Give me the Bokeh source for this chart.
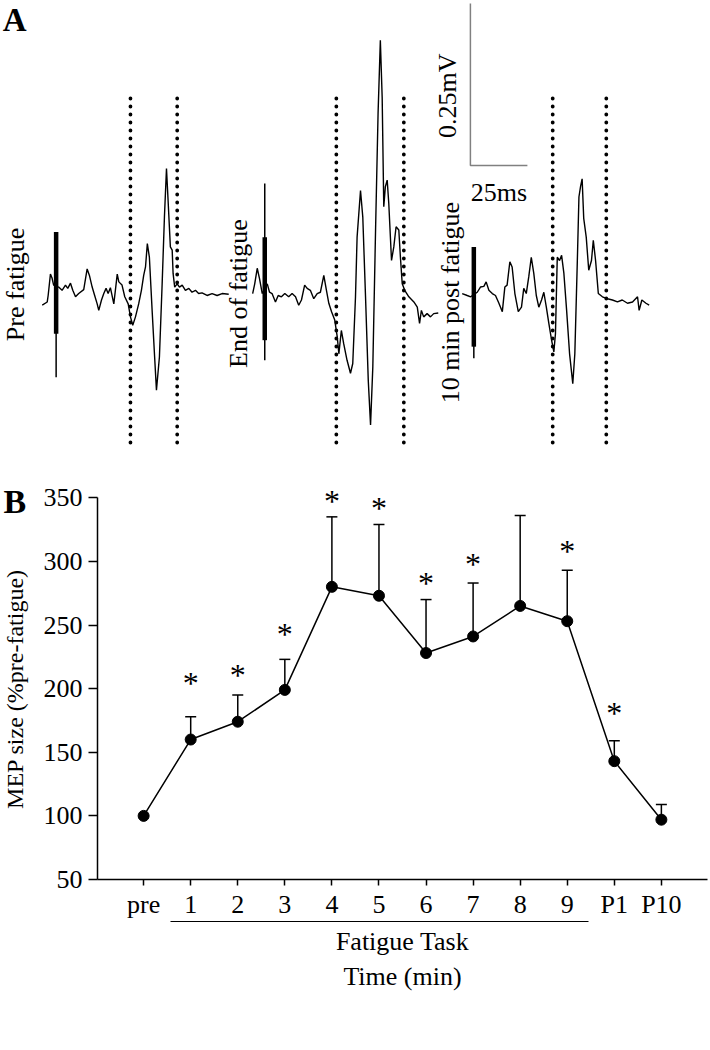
import math
from bokeh.plotting import figure
from bokeh.models import (ColumnDataSource, Range1d, LinearAxis, FixedTicker,
                          Whisker, TeeHead)
from bokeh.layouts import column, row
from bokeh.embed import file_html
from bokeh.resources import INLINE
from bokeh.core.properties import value

FONT = "Liberation Serif"

# ---------------- Panel A : MEP sweeps (ms from stimulus, mV from baseline) ----------
pre_t = [-6.1, -3.9, -3.5, -2.5, -1.8, -1.1, 1.1, 2.6, 4.1, 5.1, 6.3, 7.3, 8.5, 9.9,
         12.1, 13.6, 14.6, 15.8, 16.9, 18.0, 18.7, 19.9, 20.9, 21.9, 22.8, 23.8, 25.3,
         26.8, 27.5, 28.9, 30.1, 31.6, 32.6, 33.6, 34.8, 36.2, 37.4, 38.4, 39.2, 40.0,
         40.9, 42.1, 43.2, 44.0, 45.3, 46.5, 47.5, 48.4, 49.1, 50.1, 50.9, 51.3, 52.0,
         53.1, 54.1, 55.3, 56.7, 58.2, 59.6, 61.1, 62.5, 64.0, 66.2, 68.4, 70.6, 72.8, 75.7]
pre_v = [-0.023, -0.018, -0.008, 0.025, 0.019, 0.008, 0.005, 0.000, 0.008, 0.003, 0.011,
         0.000, -0.010, -0.005, 0.001, 0.033, 0.023, 0.005, -0.008, -0.021, -0.031, -0.015,
         -0.005, 0.003, -0.005, 0.004, -0.021, 0.025, 0.013, 0.008, -0.010, -0.021, -0.041,
         -0.054, -0.041, -0.021, 0.000, 0.023, 0.036, 0.072, 0.051, -0.031, -0.103, -0.154,
         -0.103, 0.010, 0.113, 0.188, 0.139, 0.067, 0.062, 0.026, 0.005, 0.010, 0.005,
         0.008, 0.000, 0.003, -0.003, 0.000, -0.005, -0.004, -0.008, -0.005, -0.008,
         -0.005, -0.006]

end_t = [-5.3, -4.4, -3.3, -2.3, -1.1, 1.1, 2.1, 3.2, 4.7, 5.9, 7.3, 8.8, 10.5, 12.0,
         13.5, 14.9, 16.1, 17.5, 18.6, 20.0, 21.5, 23.0, 24.4, 25.9, 26.9, 28.1, 29.3,
         30.7, 31.8, 32.5, 33.6, 34.6, 36.1, 37.6, 38.6, 39.8, 40.5, 42.0, 43.0, 44.2,
         45.4, 46.4, 47.4, 48.6, 49.7, 50.7, 51.5, 52.2, 52.9, 53.7, 54.4, 55.6, 56.6,
         57.6, 58.8, 59.5, 60.3, 61.4, 63.2, 65.4, 66.9, 67.9, 68.7, 69.7, 71.2, 72.7,
         74.1, 76.1]
end_v = [0.000, 0.015, 0.039, 0.023, 0.000, 0.015, 0.002, 0.000, -0.013, -0.003, -0.005,
         0.000, -0.005, 0.000, -0.005, -0.018, -0.010, 0.013, 0.008, 0.005, -0.008, 0.000,
         0.002, 0.028, 0.008, -0.015, -0.028, -0.041, -0.067, -0.093, -0.057, -0.077,
         -0.103, -0.123, -0.108, -0.005, 0.087, 0.159, 0.118, -0.005, -0.134, -0.203,
         -0.113, 0.098, 0.278, 0.391, 0.303, 0.134, 0.165, 0.175, 0.139, 0.051, 0.072,
         0.103, 0.098, 0.056, 0.015, 0.005, -0.005, -0.013, -0.021, -0.046, -0.026,
         -0.036, -0.031, -0.036, -0.031, -0.030]

post_t = [-5.1, -2.9, -1.4, 1.5, 2.9, 4.4, 5.4, 6.6, 8.1, 9.5, 11.0, 12.5, 13.6, 14.6,
          15.8, 16.8, 18.0, 19.5, 20.9, 21.9, 23.0, 24.1, 25.2, 26.3, 27.4, 28.5, 29.7,
          30.7, 31.8, 32.9, 34.1, 35.1, 35.8, 36.6, 37.6, 38.5, 39.5, 40.7, 42.0, 43.4,
          44.3, 45.4, 46.1, 46.8, 47.5, 48.2, 49.3, 50.4, 51.6, 52.4, 53.4, 54.6, 56.4,
          58.6, 60.8, 63.0, 65.1, 67.4, 69.6, 71.8, 72.5, 73.7, 75.5, 76.9]
post_v = [0.000, -0.003, -0.005, 0.002, 0.010, 0.011, 0.018, 0.005, 0.000, -0.003,
          -0.015, -0.028, 0.010, 0.013, 0.049, 0.041, 0.000, -0.028, -0.021, 0.008, 0.000,
          0.026, 0.056, 0.031, -0.003, -0.021, -0.010, 0.002, -0.021, -0.046, -0.072,
          -0.090, -0.062, 0.056, 0.051, 0.059, 0.031, -0.026, -0.093, -0.139, -0.093,
          0.051, 0.149, 0.165, 0.177, 0.116, 0.087, 0.036, 0.051, 0.082, 0.051, 0.000,
          -0.005, -0.008, -0.010, -0.013, -0.010, -0.015, -0.013, -0.005, -0.026, -0.010,
          -0.015, -0.018]

sweep_names = ["Pre fatigue", "End of fatigue", "10 min post fatigue"]
# stimulus artifact extents (mV from baseline): thick part and thin spike
artifact_thick = [(0.090, -0.067), (0.087, -0.072), (0.072, -0.082)]
artifact_thin = [(0.090, -0.134), (0.170, -0.103), (0.072, -0.100)]
# MEP analysis window (ms after stimulus)
window_ms = [(32.6, 53.1), (31.4, 61.0), (34.6, 58.1)]
scale_ms = 25
scale_mv = 0.25

# ---------------- Panel B : MEP size ----------
categories = ["pre", "1", "2", "3", "4", "5", "6", "7", "8", "9", "P1", "P10"]
mep_mean = [100, 160, 174, 199, 280, 273, 228, 241, 265, 253, 143, 97]
mep_sem = [0, 18, 21, 24, 55, 56, 42, 42, 71, 40, 16, 12]
signif = ["", "*", "*", "*", "*", "*", "*", "*", "", "*", "*", ""]
star_y = [None, 208, 215, 247, 351, 346, 287, 302, None, 312, 185, None]
y_ticks = [50, 100, 150, 200, 250, 300, 350]
y_title = "MEP size (%pre-fatigue)"

# ======================= Panel A figure =======================
W = 710
HA = 468
PX_PER_MS = 2.28
PX_PER_MV = 648.0
pa = figure(width=W, height=HA, x_range=Range1d(0, W / PX_PER_MS),
            y_range=Range1d(0, HA / PX_PER_MV), output_backend="svg",
            toolbar_location=None, x_axis_type=None, y_axis_type=None,
            min_border=0, outline_line_color=None, frame_align=False)
pa.grid.visible = False

sweeps = [(pre_t, pre_v), (end_t, end_v), (post_t, post_v)]
sweep_t0 = [24.4, 115.9, 207.6]      # layout: where each sweep's stimulus sits
sweep_v0 = [0.275, 0.270, 0.270]     # layout: each sweep's baseline
label_pos = [(6.4, 0.284), (104.4, 0.270), (197.4, 0.256)]
win_top, win_bot = 0.571, 0.039

for (t, v), t0, v0, thick, thin, win, name, lp in zip(
        sweeps, sweep_t0, sweep_v0, artifact_thick, artifact_thin, window_ms,
        sweep_names, label_pos):
    pa.line([ti + t0 for ti in t], [vi + v0 for vi in v], line_color="black",
            line_width=1.4)
    pa.segment(x0=[t0], y0=[v0 + thin[0]], x1=[t0], y1=[v0 + thin[1]],
               line_color="black", line_width=1.5)
    pa.segment(x0=[t0], y0=[v0 + thick[0]], x1=[t0], y1=[v0 + thick[1]],
               line_color="black", line_width=4.5)
    pa.segment(x0=[t0 + w for w in win], y0=[win_top, win_top],
               x1=[t0 + w for w in win], y1=[win_bot, win_bot],
               line_color="black", line_width=3.8, line_dash="0 8", line_cap="round")
    pa.text(x=[lp[0]], y=[lp[1]], text=[name], angle=math.pi / 2,
            text_align="center", text_baseline="middle",
            text_font=value(FONT), text_font_size="26px", text_color="black")

# scale bar
sb_x, sb_y = 206.1, 0.4676
pa.line([sb_x, sb_x, sb_x + scale_ms], [sb_y + scale_mv, sb_y, sb_y],
        line_color="#808080", line_width=1.5)
pa.text(x=[sb_x - 10.1], y=[sb_y + scale_mv * 0.43], text=["%.2fmV" % scale_mv],
        angle=math.pi / 2, text_align="center", text_baseline="middle",
        text_font=value(FONT), text_font_size="26px", text_color="black")
pa.text(x=[sb_x + scale_ms / 2], y=[sb_y - 0.042], text=["%dms" % scale_ms],
        text_align="center", text_baseline="middle",
        text_font=value(FONT), text_font_size="26px", text_color="black")
pa.text(x=[1.0], y=[(HA - 1) / PX_PER_MV], text=["A"], text_align="left",
        text_baseline="top", text_font=value(FONT), text_font_size="33px",
        text_font_style="bold", text_color="black")

# ======================= Panel B figures =======================
HB = 582
WL = 36
# narrow strip on the left carrying the panel letter and the y title
pl = figure(width=WL, height=HB, x_range=Range1d(0, WL), y_range=Range1d(0, HB),
            output_backend="svg", toolbar_location=None, x_axis_type=None,
            y_axis_type=None, min_border=0, outline_line_color=None, frame_align=False)
pl.grid.visible = False
pl.text(x=[3], y=[HB - 33], text=["B"], text_align="left", text_baseline="middle",
        text_font=value(FONT), text_font_size="34px", text_font_style="bold",
        text_color="black")
pl.text(x=[14], y=[HB - 220.5], text=[y_title], angle=math.pi / 2,
        text_align="center", text_baseline="middle", text_font=value(FONT),
        text_font_size="24px", text_color="black")

xs = list(range(len(categories)))
pb = figure(width=W - WL, height=HB, x_range=Range1d(-0.98, 11.98),
            y_range=Range1d(50, 362), output_backend="svg", toolbar_location=None,
            min_border_left=97 - WL, min_border_right=3, min_border_top=14,
            min_border_bottom=171, outline_line_color=None, frame_align=False)
pb.grid.visible = False

yax = pb.yaxis[0]
yax.ticker = FixedTicker(ticks=y_ticks)
yax.bounds = (50, 350)
yax.minor_tick_line_color = None
yax.major_tick_out = 9
yax.major_tick_in = 0
yax.axis_line_width = 1.5
yax.axis_line_color = "black"
yax.major_tick_line_width = 1.5
yax.major_tick_line_color = "black"
yax.major_label_text_font = FONT
yax.major_label_text_font_size = "26px"
yax.major_label_text_color = "black"
yax.major_label_standoff = 6

xax = pb.xaxis[0]
xax.ticker = FixedTicker(ticks=xs)
xax.major_label_overrides = {i: c for i, c in zip(xs, categories)}
xax.minor_tick_line_color = None
xax.major_tick_out = 6
xax.major_tick_in = 0
xax.axis_line_width = 1.5
xax.axis_line_color = "black"
xax.major_tick_line_width = 1.5
xax.major_tick_line_color = "black"
xax.major_label_text_font = FONT
xax.major_label_text_font_size = "26px"
xax.major_label_text_color = "black"
xax.major_label_text_line_height = 0.8
xax.major_label_standoff = 4

# underline for the fatigue-task minutes
ax_under = LinearAxis(ticker=FixedTicker(ticks=[]), bounds=(0.57, 9.45),
                      axis_line_width=1.2, axis_line_color="black",
                      major_tick_line_color=None,
                      minor_tick_line_color=None, major_tick_out=0, major_tick_in=0,
                      major_label_standoff=0)
pb.add_layout(ax_under, "below")
ax_task = LinearAxis(ticker=FixedTicker(ticks=[]), axis_line_color=None,
                     major_tick_line_color=None, minor_tick_line_color=None,
                     major_tick_out=0, major_tick_in=0, major_label_standoff=0,
                     axis_label="Fatigue Task", axis_label_text_font=FONT,
                     axis_label_text_font_size="26px", axis_label_text_font_style="normal",
                     axis_label_text_color="black", axis_label_standoff=5)
pb.add_layout(ax_task, "below")
ax_time = LinearAxis(ticker=FixedTicker(ticks=[]), axis_line_color=None,
                     major_tick_line_color=None, minor_tick_line_color=None,
                     major_tick_out=0, major_tick_in=0, major_label_standoff=0,
                     axis_label="Time (min)", axis_label_text_font=FONT,
                     axis_label_text_font_size="26px", axis_label_text_font_style="normal",
                     axis_label_text_color="black", axis_label_standoff=3)
pb.add_layout(ax_time, "below")

err = [(x, m, m + s) for x, m, s in zip(xs, mep_mean, mep_sem) if s > 0]
err_src = ColumnDataSource(dict(x=[e[0] for e in err], lower=[e[1] for e in err],
                                upper=[e[2] for e in err]))
pb.add_layout(Whisker(source=err_src, base="x", lower="lower", upper="upper",
                      dimension="height", line_color="black", line_width=1.5,
                      lower_head=None,
                      upper_head=TeeHead(size=11, line_color="black", line_width=1.5)))

pb.line(xs, mep_mean, line_color="black", line_width=1.5)
pb.scatter(xs, mep_mean, size=11, fill_color="black", line_color="black")

sx = [x for x, s in zip(xs, signif) if s]
sy = [y for y, s in zip(star_y, signif) if s]
pb.text(x=sx, y=sy, text=["*"] * len(sx), text_align="center", text_baseline="middle",
        y_offset=5, text_font=value(FONT), text_font_size="32px", text_color="black")

layout = column(pa, row(pl, pb))
open("out.html", "w").write(file_html(layout, INLINE))
